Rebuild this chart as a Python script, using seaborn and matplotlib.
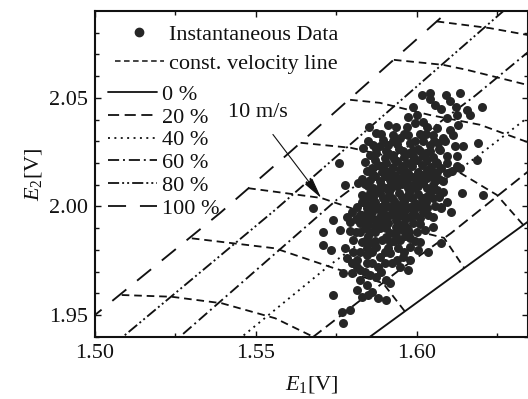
import matplotlib
matplotlib.use("Agg")
import matplotlib.pyplot as plt
from matplotlib.lines import Line2D
import seaborn as sns
import pandas as pd

sns.set_theme(style="ticks")
plt.rcParams.update({
    "font.family": ["Liberation Serif", "DejaVu Serif"],
    "mathtext.fontset": "custom",
    "mathtext.rm": "Liberation Serif",
    "mathtext.it": "Liberation Serif:italic",
    "lines.scale_dashes": False,
})

# ---------------- data ----------------
# instantaneous data (E1, E2)
pts_e1 = [1.6015, 1.6041, 1.6041, 1.6091, 1.6134, 1.6103, 1.6057, 1.5989, 1.6077, 1.6122, 1.6155, 1.6165,
          1.6124, 1.5974, 1.6000, 1.6093, 1.6020, 1.5994, 1.5969, 1.6031, 1.6062, 1.6103, 1.6129, 1.5853,
          1.5910, 1.5935, 1.5873, 1.5927, 1.5948, 1.5896, 1.5974, 1.6010, 1.6051, 1.6083, 1.6114, 1.5865,
          1.5834, 1.5886, 1.5912, 1.5938, 1.5979, 1.6020, 1.6041, 1.6067, 1.6088, 1.6119, 1.6145, 1.5855,
          1.5875, 1.5906, 1.5927, 1.5958, 1.5989, 1.6010, 1.6041, 1.6072, 1.6093, 1.6124, 1.6186, 1.5759,
          1.5881, 1.5906, 1.5938, 1.5969, 1.6000, 1.6031, 1.6062, 1.6093, 1.6124, 1.5860, 1.5891, 1.5917,
          1.5948, 1.5974, 1.6005, 1.6031, 1.6062, 1.6093, 1.6134, 1.5855, 1.5886, 1.5917, 1.5943, 1.5969,
          1.6000, 1.6031, 1.6057, 1.6083, 1.5777, 1.5818, 1.5849, 1.5875, 1.5906, 1.5938, 1.5974, 1.6005,
          1.6031, 1.6062, 1.6083, 1.6140, 1.5829, 1.5865, 1.5896, 1.5922, 1.5953, 1.5984, 1.6015, 1.6051,
          1.6093, 1.5679, 1.5844, 1.5886, 1.5917, 1.5948, 1.5979, 1.6020, 1.6057, 1.6077,
          1.5813, 1.5844, 1.5875, 1.5906, 1.5938, 1.5969, 1.6000, 1.6031, 1.6077, 1.5741, 1.5782, 1.5824,
          1.5855, 1.5886, 1.5917, 1.5948, 1.5979, 1.6010, 1.6051, 1.6108, 1.5792, 1.5824, 1.5875, 1.5912,
          1.5948, 1.5989, 1.6026, 1.6051, 1.5761, 1.5792, 1.5824, 1.5855, 1.5886, 1.5917, 1.5958, 1.6000,
          1.5710, 1.5803, 1.5829, 1.5860, 1.5891, 1.5917, 1.5948, 1.5979, 1.6010, 1.6077, 1.5710, 1.5735,
          1.5777, 1.5803, 1.5844, 1.5875, 1.5912, 1.5943, 1.5979, 1.6005, 1.6036, 1.5782, 1.5813, 1.5844,
          1.5886, 1.5917, 1.5938, 1.5958, 1.5979, 1.5813, 1.5844, 1.5881, 1.5922, 1.5948, 1.5974, 1.5772,
          1.5798, 1.5824, 1.5855, 1.5875, 1.5906, 1.5824, 1.5844, 1.5813, 1.5860, 1.5849, 1.5829, 1.5741,
          1.5881, 1.5906, 1.5767, 1.5772, 1.5792, 1.5917, 1.6202, 1.6191, 1.6205,
          1.5870, 1.5900, 1.5930, 1.5960, 1.5990, 1.6020, 1.6050, 1.5860, 1.5890, 1.5925, 1.5955, 1.5985,
          1.6015, 1.6045, 1.6075, 1.5870, 1.5900, 1.5930, 1.5960, 1.5990, 1.6018, 1.6048, 1.5840, 1.5890,
          1.5920, 1.5955, 1.5990, 1.6020, 1.6050, 1.5855, 1.5885, 1.5915, 1.5945, 1.5975, 1.6005, 1.6040,
          1.5830, 1.5870, 1.5900, 1.5930, 1.5960, 1.5995, 1.6030, 1.5800, 1.5860, 1.5890, 1.5925, 1.5960,
          1.5990, 1.6020, 1.5810, 1.5840, 1.5870, 1.5900, 1.5935, 1.5965, 1.5840, 1.5870, 1.5905, 1.5935,
          1.5970, 1.5850, 1.5905, 1.5935, 1.5965]
pts_e2 = [2.0514, 2.0522, 2.0495, 2.0514, 2.0522, 2.0486, 2.0465, 2.0456, 2.0449, 2.0460, 2.0445, 2.0422,
          2.0422, 2.0414, 2.0419, 2.0406, 2.0391, 2.0383, 2.0368, 2.0368, 2.0360, 2.0353, 2.0376, 2.0368,
          2.0373, 2.0368, 2.0337, 2.0330, 2.0317, 2.0307, 2.0330, 2.0333, 2.0330, 2.0314, 2.0330, 2.0284,
          2.0271, 2.0276, 2.0284, 2.0287, 2.0291, 2.0299, 2.0284, 2.0291, 2.0299, 2.0276, 2.0276, 2.0237,
          2.0245, 2.0253, 2.0237, 2.0253, 2.0260, 2.0253, 2.0253, 2.0260, 2.0230, 2.0230, 2.0214, 2.0199,
          2.0191, 2.0199, 2.0207, 2.0199, 2.0214, 2.0214, 2.0199, 2.0199, 2.0184, 2.0153, 2.0160, 2.0160,
          2.0168, 2.0153, 2.0160, 2.0168, 2.0160, 2.0153, 2.0176, 2.0122, 2.0115, 2.0122, 2.0130, 2.0122,
          2.0115, 2.0130, 2.0115, 2.0115, 2.0099, 2.0107, 2.0092, 2.0076, 2.0084, 2.0092, 2.0084, 2.0092,
          2.0084, 2.0076, 2.0068, 2.0064, 2.0053, 2.0045, 2.0038, 2.0038, 2.0045, 2.0038, 2.0038, 2.0038,
          2.0022, 1.9992, 2.0007, 1.9999, 1.9999, 2.0007, 1.9999, 1.9999, 2.0004, 1.9995,
          1.9999, 1.9992, 1.9992, 1.9999, 1.9992, 1.9992, 1.9999, 1.9992, 1.9999, 1.9938, 1.9953, 1.9961,
          1.9953, 1.9953, 1.9961, 1.9961, 1.9953, 1.9946, 1.9953, 1.9976, 1.9930, 1.9923, 1.9915, 1.9923,
          1.9915, 1.9923, 1.9892, 1.9907, 1.9892, 1.9887, 1.9884, 1.9884, 1.9899, 1.9876, 1.9892, 1.9884,
          1.9884, 1.9846, 1.9838, 1.9830, 1.9846, 1.9838, 1.9846, 1.9853, 1.9838, 1.9830, 1.9823, 1.9800,
          1.9807, 1.9792, 1.9807, 1.9815, 1.9807, 1.9807, 1.9815, 1.9800, 1.9792, 1.9761, 1.9754, 1.9777,
          1.9769, 1.9784, 1.9754, 1.9769, 1.9754, 1.9723, 1.9738, 1.9723, 1.9738, 1.9723, 1.9707, 1.9692,
          1.9692, 1.9707, 1.9684, 1.9677, 1.9661, 1.9661, 1.9638, 1.9615, 1.9608, 1.9592, 1.9585, 1.9592,
          1.9577, 1.9569, 1.9515, 1.9462, 1.9523, 1.9646, 2.0460, 2.0291, 2.0053,
          2.0215, 2.0222, 2.0218, 2.0226, 2.0230, 2.0232, 2.0228, 2.0176, 2.0184, 2.0180, 2.0186, 2.0188,
          2.0190, 2.0183, 2.0178, 2.0138, 2.0142, 2.0146, 2.0140, 2.0136, 2.0144, 2.0138, 2.0105, 2.0100,
          2.0106, 2.0104, 2.0100, 2.0106, 2.0098, 2.0062, 2.0060, 2.0066, 2.0060, 2.0064, 2.0058, 2.0060,
          2.0022, 2.0020, 2.0018, 2.0024, 2.0020, 2.0016, 2.0020, 1.9975, 1.9972, 1.9976, 1.9978, 1.9974,
          1.9970, 1.9975, 1.9940, 1.9935, 1.9938, 1.9940, 1.9936, 1.9940, 1.9900, 1.9905, 1.9900, 1.9904,
          1.9900, 1.9862, 1.9860, 1.9865, 1.9862]
# extra points read in the densest part of the cloud
core_e1 = [1.5890, 1.5960, 1.6030, 1.5850, 1.5925, 1.5995, 1.6055, 1.5875, 1.5945, 1.6005, 1.6070,
           1.5910, 1.5975, 1.6030, 1.5840, 1.5985, 1.6060, 1.5845, 1.5905, 1.5965, 1.6045, 1.6110,
           1.5830, 1.5935, 1.6010, 1.6070, 1.5865, 1.5920, 1.5990, 1.6050, 1.5850, 1.5910, 1.5970,
           1.6030, 1.6070, 1.5860, 1.5935, 1.6010, 1.5840, 1.5900, 1.5935, 1.5995, 1.6035, 1.5850,
           1.5890, 1.5960, 1.6010, 1.5810, 1.5870, 1.5935, 1.5975, 1.5840, 1.5870, 1.5930, 1.5995,
           1.5825, 1.5860, 1.5900, 1.5960, 1.5800, 1.5860, 1.5900, 1.5840, 1.5890]
core_e2 = [2.0335, 2.0335, 2.0335, 2.0300, 2.0300, 2.0300, 2.0300, 2.0265, 2.0265, 2.0265, 2.0265,
           2.0245, 2.0245, 2.0245, 2.0205, 2.0205, 2.0205, 2.0165, 2.0165, 2.0165, 2.0165, 2.0165,
           2.0125, 2.0125, 2.0125, 2.0125, 2.0085, 2.0085, 2.0085, 2.0085, 2.0045, 2.0045, 2.0045,
           2.0045, 2.0045, 2.0010, 2.0010, 2.0010, 1.9960, 1.9960, 1.9960, 1.9960, 1.9960, 1.9920,
           1.9920, 1.9920, 1.9920, 1.9880, 1.9880, 1.9880, 1.9880, 1.9840, 1.9840, 1.9840, 1.9840,
           1.9790, 1.9790, 1.9790, 1.9790, 1.9740, 1.9740, 1.9740, 1.9700, 1.9700]

# constant-angle calibration lines (label, E1, E2)
angle_labels = ["0 %", "20 %", "40 %", "60 %", "80 %", "100 %"]
a0_e1 = [1.5809, 1.5855, 1.6346, 1.6400]
a0_e2 = [1.9350, 1.9400, 1.9930, 1.9988]
a20_e1 = [1.5636, 1.5679, 1.5940, 1.6106, 1.6326, 1.6400]
a20_e2 = [1.9350, 1.9400, 1.9700, 1.9876, 2.0137, 2.0224]
a40_e1 = [1.5416, 1.5457, 1.5730, 1.6187, 1.6342, 1.6400]
a40_e2 = [1.9350, 1.9400, 1.9730, 2.0229, 2.0406, 2.0472]
a60_e1 = [1.5225, 1.5264, 1.5751, 1.6181, 1.6343, 1.6400]
a60_e2 = [1.9350, 1.9400, 2.0030, 2.0509, 2.0707, 2.0777]
a80_e1 = [1.5047, 1.5087, 1.5560, 1.6268, 1.6308]
a80_e2 = [1.9350, 1.9400, 1.9984, 2.0898, 2.0950]
a100_e1 = [1.4900, 1.5000, 1.5389, 1.5603, 1.6085, 1.6137]
a100_e2 = [1.9379, 1.9500, 1.9970, 2.0246, 2.0882, 2.0950]

# constant-velocity lines
v1_e1 = [1.5083, 1.5238, 1.5394, 1.5560, 1.5678, 1.5731]
v1_e2 = [1.9592, 1.9584, 1.9554, 1.9485, 1.9400, 1.9339]
v2_e1 = [1.5301, 1.5560, 1.5740, 1.5895, 1.5964]
v2_e2 = [1.9853, 1.9807, 1.9717, 1.9647, 1.9515]
v3_e1 = [1.5476, 1.5588, 1.5703, 1.6023, 1.6085, 1.6147]
v3_e2 = [2.0084, 2.0062, 2.0039, 1.9878, 1.9855, 1.9718]
v4_e1 = [1.5639, 1.5795, 1.6129, 1.6249, 1.6331]
v4_e2 = [2.0293, 2.0270, 2.0160, 2.0053, 1.9915]
v5_e1 = [1.5793, 1.5886, 1.6041, 1.6197, 1.6343, 1.6420]
v5_e2 = [2.0491, 2.0477, 2.0421, 2.0376, 2.0297, 2.0250]
v6_e1 = [1.5929, 1.6082, 1.6156, 1.6243, 1.6343, 1.6420]
v6_e2 = [2.0675, 2.0652, 2.0629, 2.0597, 2.0560, 2.0530]
v7_e1 = [1.6062, 1.6228, 1.6343, 1.6420]
v7_e2 = [2.0852, 2.0821, 2.0790, 2.0770]

annot_text = "10 m/s"

# ---------------- styles ----------------
ink = "#111111"
dot_color = "#262626"
angle_styles = ["-", (0, (8, 4)), (0, (1.4, 3.2)), (0, (8, 2.8, 1.4, 2.8)),
                (0, (8, 2.2, 1.4, 2.2, 1.4, 2.2)), (0, (13, 10))]
vel_style = (0, (5.5, 3.5))

fig = plt.figure(figsize=(5.28, 3.99), dpi=100)
ax = fig.add_axes([95 / 528, (399 - 336.7) / 399, 433 / 528, 325.7 / 399])

angle_lines = [(a0_e1, a0_e2), (a20_e1, a20_e2), (a40_e1, a40_e2),
               (a60_e1, a60_e2), (a80_e1, a80_e2), (a100_e1, a100_e2)]
for (xe, ye), ls in zip(angle_lines, angle_styles):
    df = pd.DataFrame({"E1": xe, "E2": ye})
    sns.lineplot(data=df, x="E1", y="E2", sort=False, estimator=None, color=ink,
                 linewidth=1.35, linestyle=ls, ax=ax, legend=False)

vel_lines = [(v1_e1, v1_e2), (v2_e1, v2_e2), (v3_e1, v3_e2), (v4_e1, v4_e2),
             (v5_e1, v5_e2), (v6_e1, v6_e2), (v7_e1, v7_e2)]
for xe, ye in vel_lines:
    df = pd.DataFrame({"E1": xe, "E2": ye})
    sns.lineplot(data=df, x="E1", y="E2", sort=False, estimator=None, color=ink,
                 linewidth=1.3, linestyle=vel_style, ax=ax, legend=False)

sdf = pd.DataFrame({"E1": pts_e1 + core_e1, "E2": pts_e2 + core_e2})
sns.scatterplot(data=sdf, x="E1", y="E2", color=dot_color, s=42, linewidth=0,
                ax=ax, legend=False, zorder=3)

ax.annotate(annot_text, xy=(1.5703, 2.0039), xytext=(1.5413, 2.0431),
            fontsize=16, color=ink, va="center", ha="left",
            arrowprops=dict(arrowstyle="-|>,head_length=0.8,head_width=0.18",
                            color=ink, lw=0.8, shrinkA=8, shrinkB=0,
                            relpos=(0.6, 0.0)), zorder=4)

ax.set_xlim(1.50, 1.6346)
ax.set_ylim(1.94, 2.09)
ax.set_xticks([1.50, 1.55, 1.60])
ax.set_xticklabels(["1.50", "1.55", "1.60"])
ax.set_yticks([1.95, 2.00, 2.05])
ax.set_yticklabels(["1.95", "2.00", "2.05"])
ax.set_xticks([1.525, 1.575, 1.625], minor=True)
ax.set_yticks([1.94, 1.96, 1.97, 1.98, 1.99, 2.01, 2.02, 2.03, 2.04, 2.06, 2.07, 2.08], minor=True)
ax.tick_params(which="both", direction="in", top=True, right=True, colors=ink,
               labelsize=16, width=1.0)
ax.tick_params(which="major", length=4.5, pad=5)
ax.tick_params(which="minor", length=3.0)
for sp in ax.spines.values():
    sp.set_linewidth(1.5)
    sp.set_color(ink)

ax.set_xlabel(r"$E_{1}$[V]", fontsize=16, color=ink, labelpad=8)
ax.set_ylabel(r"$E_{2}$[V]", fontsize=16, color=ink, labelpad=4)

h1 = [Line2D([], [], marker="o", ls="", color=dot_color, markersize=6),
      Line2D([], [], color=ink, lw=1.1, ls=(0, (4, 2.5)))]
leg1 = ax.legend(h1, ["Instantaneous Data", "const. velocity line"], loc="upper left",
                 bbox_to_anchor=(0.046, 0.958), frameon=False, fontsize=16,
                 handlelength=2.2, handletextpad=0.22, borderpad=0, borderaxespad=0,
                 labelspacing=0.38, labelcolor=ink)
ax.add_artist(leg1)
h2 = [Line2D([], [], color=ink, lw=1.3, ls=s) for s in angle_styles]
ax.legend(h2, angle_labels, loc="upper left", bbox_to_anchor=(0.030, 0.775),
          frameon=False, fontsize=16, handlelength=2.2, handletextpad=0.22,
          borderpad=0, borderaxespad=0, labelspacing=0.1, labelcolor=ink)

fig.savefig("out.png", dpi=100)
